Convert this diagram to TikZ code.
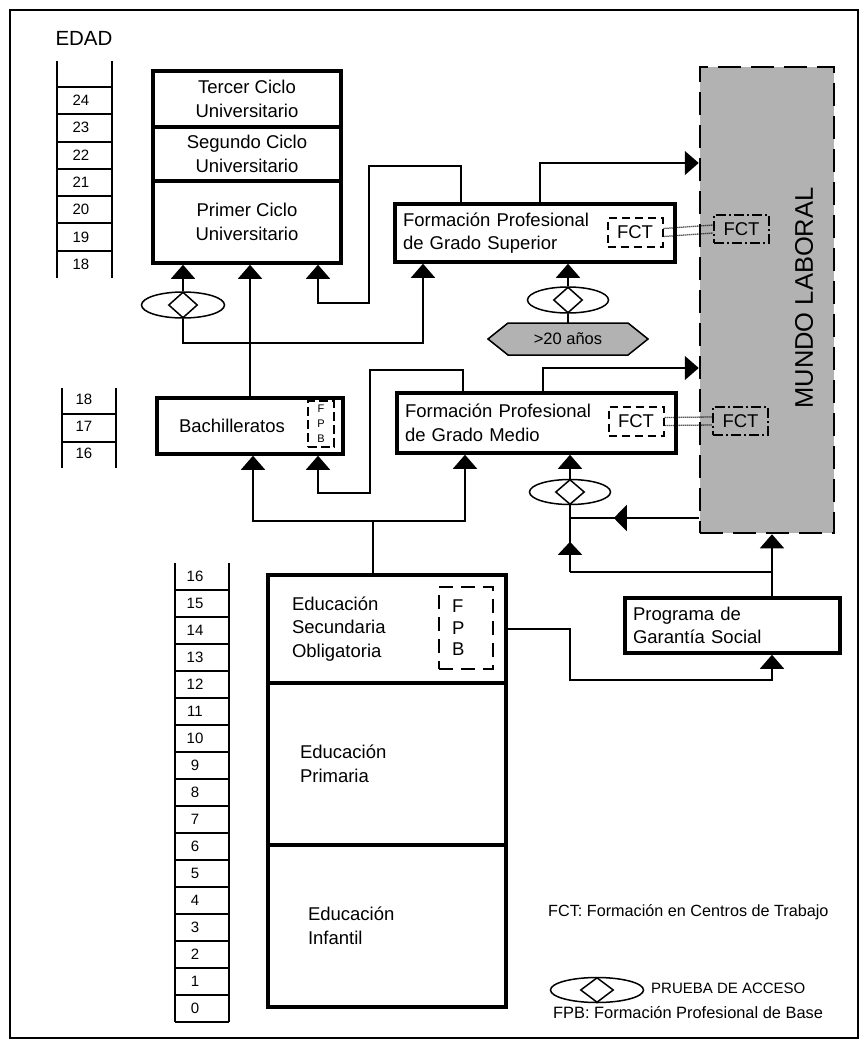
\documentclass[tikz,border=0pt]{standalone}
\usepackage{fontspec}
\setmainfont{Liberation Sans}
\usetikzlibrary{arrows.meta,shapes.geometric,decorations.markings}
\definecolor{mlgray}{RGB}{178,178,178}
\begin{document}
\begin{tikzpicture}[x=1pt, y=-1pt,
  box/.style = {draw, line width=3.5pt, inner sep=0pt, align=center, font=\fontsize{18.5pt}{23.5pt}\selectfont},
  lbox/.style = {box, align=left, inner xsep=8pt},
  fct/.style = {draw, dash pattern=on 8pt off 5pt, line width=2pt, inner sep=0pt, minimum width=55pt, minimum height=29pt, font=\fontsize{18.5pt}{22pt}\selectfont},
  fctml/.style = {draw, dash pattern=on 10pt off 3pt on 2pt off 3pt, line width=1.2pt, inner sep=0pt, minimum width=55pt, minimum height=28pt, font=\fontsize{18.5pt}{22pt}\selectfont},
  fpb/.style = {draw, dash pattern=on 14pt off 8pt, line width=2pt, inner sep=0pt},
  line/.style = {line width=1.5pt},
  flow/.style = {line, -{Triangle[width=24pt,length=14pt]}},
  dots/.style = {line width=1.3pt, dash pattern=on 1pt off 1pt},
  pell/.style = {draw, ellipse, line width=1.5pt, inner sep=0pt},
  pdia/.style = {draw, diamond, line width=1.5pt, inner sep=0pt},
  rung/.style = {line width=2pt},
  age/.style = {inner sep=0pt, font=\fontsize{15pt}{15pt}\selectfont},
  midleft/.style = {line, postaction={decorate}, decoration={markings, mark=at position 0.66 with {\arrow{Triangle[width=26pt,length=13pt]}}}},
  midup/.style = {line, postaction={decorate}, decoration={markings, mark=at position 0.56 with {\arrow{Triangle[width=24pt,length=13pt]}}}}]
\useasboundingbox (0,0) rectangle (859,1047);
\draw[line width=2pt] (10,10) rectangle (858,1038);

\node[font=\fontsize{20.5pt}{21pt}\selectfont] (edad) at (84,38) {EDAD};
\draw[rung] (57,61) -- (57,278) (112,61) -- (112,278);
\foreach \y in {87,114,142,169,196,223,251} \draw[rung] (57,\y) -- (112,\y);
\foreach \n [count=\i from 0] in {24,23,...,18} \node[age] (u\n) at (81,100.5+27.3*\i) {\n};
\draw[rung] (62,388) -- (62,468) (116,388) -- (116,468);
\draw[rung] (62,414) -- (116,414) (62,442) -- (116,442);
\foreach \n [count=\i from 0] in {18,17,16} \node[age] (b\n) at (84,399+27*\i) {\n};
\draw[rung] (175,563) -- (175,1022) (229,563) -- (229,1022);
\foreach \k in {0,...,16} \draw[rung] (175,590+27*\k) -- (229,590+27*\k);
\foreach \n in {0,...,16} \node[age] (s\n) at (195,1008.5-27*\n) {\n};

\node[box, minimum width=188pt, minimum height=56pt] (tercer) at (247,99) {Tercer Ciclo\\Universitario};
\node[box, minimum width=188pt, minimum height=54pt] (segundo) at (247,154) {Segundo Ciclo\\Universitario};
\node[box, minimum width=188pt, minimum height=82pt] (primer) at (247,222) {Primer Ciclo\\Universitario};

\node[box, align=left, inner xsep=22pt, text width=142pt, minimum height=56pt] (bach) at (250,426) {Bachilleratos};
\node[fpb, line width=1.5pt, dash pattern=on 9pt off 4pt, minimum width=26pt, minimum height=46pt, align=center, font=\fontsize{11pt}{15pt}\selectfont] (fpb1) at (321,424) {F\\P\\B};

\node[lbox, text width=264pt, minimum height=58pt] (fpgs) at (535,233) {Formación Profesional\\de Grado Superior};
\node[fct] (fct1) at (635,232.5) {FCT};
\node[lbox, text width=263pt, minimum height=60pt] (fpgm) at (536.5,423) {Formación Profesional\\de Grado Medio};
\node[fct] (fct2) at (636,421.5) {FCT};

\node[draw, fill=mlgray, line width=2.5pt, dash pattern=on 23pt off 10pt, minimum width=134pt, minimum height=466pt] (ml) at (767,300) {};
\node[rotate=90, font=\fontsize{25.5pt}{26pt}\selectfont] (mlt) at (804,298) {MUNDO LABORAL};
\node[fctml] (fct1m) at (741.5,229) {FCT};
\node[fctml] (fct2m) at (740.5,421) {FCT};

\filldraw[fill=mlgray, line width=1.5pt] (488,339) -- (508,323) -- (628,323) -- (648,339) -- (628,355) -- (508,355) -- cycle;
\node[minimum width=160pt, minimum height=32pt, inner sep=0pt, font=\fontsize{16.5pt}{17pt}\selectfont] (age) at (568,339) {>20 años};

\node[lbox, text width=199pt, minimum height=55pt] (pgs) at (732.5,625.5) {Programa de\\Garantía Social};

\node[box, align=left, inner xsep=24pt, text width=190pt, minimum height=108pt] (eso) at (387,629) {Educación\\Secundaria\\Obligatoria};
\node[box, align=left, inner xsep=32pt, text width=174pt, minimum height=162pt] (prim) at (387,764) {Educación\\Primaria};
\node[box, align=left, inner xsep=40pt, text width=158pt, minimum height=162pt] (inf) at (387,926) {Educación\\Infantil};
\node[fpb, minimum width=54pt, minimum height=82pt, align=left, inner xsep=13pt, text width=28pt, font=\fontsize{18.5pt}{21.5pt}\selectfont] (fpb2) at (466,628) {F\\P\\B};

\node[pell, minimum width=83pt, minimum height=26pt] (e1) at (183,305) {};
\node[pdia, minimum width=29pt, minimum height=26pt] (d1) at (183,305) {};
\node[pell, minimum width=81pt, minimum height=26pt] (e2) at (568,300) {};
\node[pdia, minimum width=29pt, minimum height=26pt] (d2) at (568,300) {};
\node[pell, minimum width=81pt, minimum height=25pt] (e3) at (570,492) {};
\node[pdia, minimum width=29pt, minimum height=25pt] (d3) at (570,492) {};

\coordinate (j2) at (423,343);
\coordinate (b1) at (369,166);
\coordinate (b3) at (318,303);
\coordinate (b5) at (370,370);
\coordinate (b6) at (318,493);
\coordinate (j3) at (373,521);
\coordinate (j4) at (570,518);
\coordinate (j5) at (570,572);
\coordinate (j6) at (772,572);
\coordinate (j8) at (570,680);

\draw[flow] (e1) -- (e1 |- primer.south);
\draw[flow] (bach) -- (bach |- primer.south);
\draw[flow] (e1) |- (j2) -- (j2 |- fpgs.south);
\draw[flow] ([xshift=-74pt]fpgs.north) |- (b1) |- (b3) -- (b3 |- primer.south);
\draw[flow] ([xshift=5pt]fpgs.north) |- ([yshift=137pt]ml.west);
\draw[flow] (e2) -- (e2 |- fpgs.south);
\draw[line] (e2) -- (age);
\draw[dots] ([yshift=4pt]fct1.east) -- ([yshift=4pt]fct1m.west);
\draw[dots] ([yshift=-4pt]fct1.east) -- ([yshift=-4pt]fct1m.west);
\draw[dots] ([yshift=4pt]fct2.east) -- ([yshift=4pt]fct2m.west);
\draw[dots] ([yshift=-4pt]fct2.east) -- ([yshift=-4pt]fct2m.west);
\draw[flow] ([xshift=-73.5pt]fpgm.north) |- (b5) |- (b6) -- (b6 |- bach.south);
\draw[flow] ([xshift=6.5pt]fpgm.north) |- ([yshift=-68pt]ml.west);
\draw[line] (j3) -- (j3 |- eso.north);
\draw[flow] (j3) -| ([xshift=3pt]bach.south);
\draw[flow] (j3) -| ([xshift=-71.5pt]fpgm.south);
\draw[flow] (e3) -- (e3 |- fpgm.south);
\draw[line] (e3) -- (j4);
\draw[midleft] (ml.west |- j4) -- (j4);
\draw[midup] (j5) -- (j4);
\draw[line] (j6) -- (j5);
\draw[flow] ([xshift=39.5pt]pgs.north) -- (ml.south -| j6);
\draw[flow] (eso.east) -| (j8) -| ([xshift=39.5pt]pgs.south);

\node[anchor=west, inner sep=0pt, font=\fontsize{16.2pt}{17pt}\selectfont] (leg1) at (548,912) {FCT: Formación en Centros de Trabajo};
\node[pell, minimum width=93pt, minimum height=25pt] (e4) at (597,990) {};
\node[pdia, minimum width=33pt, minimum height=25pt] (d4) at (597,990) {};
\node[anchor=west, inner sep=0pt, font=\fontsize{15pt}{16pt}\selectfont] (leg2) at (651,988) {PRUEBA DE ACCESO};
\node[anchor=west, inner sep=0pt, font=\fontsize{16.4pt}{17pt}\selectfont] (leg3) at (553,1013) {FPB: Formación Profesional de Base};
\end{tikzpicture}
\end{document}
